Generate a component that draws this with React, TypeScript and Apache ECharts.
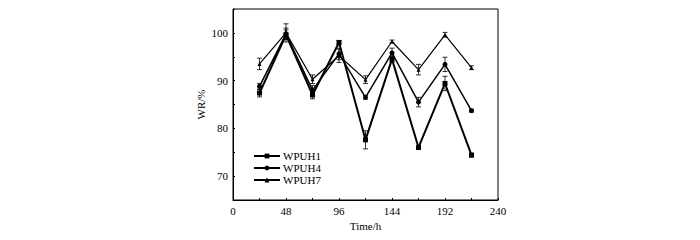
import React, { useEffect, useRef } from "react";
import * as echarts from "echarts";

const times = [24, 48, 72, 96, 120, 144, 168, 192, 216];
const wpuh1 = [87.4, 99.6, 87.0, 98.0, 77.6, 94.5, 76.0, 89.4, 74.4];
const wpuh1Err = [0.8, 1.0, 0.8, 0.4, 1.9, 0.6, 0.4, 1.5, 0.4];
const wpuh4 = [88.8, 99.8, 88.0, 95.6, 86.5, 95.8, 85.5, 93.4, 83.7];
const wpuh4Err = [0.6, 1.2, 1.0, 1.2, 0.4, 1.0, 1.0, 1.5, 0.3];
const wpuh7 = [93.5, 100.0, 90.3, 95.2, 90.2, 98.2, 92.3, 99.6, 92.7];
const wpuh7Err = [1.2, 1.9, 0.9, 1.4, 0.8, 0.3, 1.1, 0.5, 0.4];
const seriesNames = ["WPUH1", "WPUH4", "WPUH7"];
const xTickLabels = [0, 48, 96, 144, 192, 240];
const yTickLabels = [70, 80, 90, 100];

function errorSeries(vals: number[], errs: number[]) {
  return {
    type: "custom",
    silent: true,
    z: 5,
    data: times.map((t, i) => [t, vals[i] - errs[i], vals[i] + errs[i]]),
    renderItem: (params: any, api: any) => {
      const lo = api.coord([api.value(0), api.value(1)]);
      const hi = api.coord([api.value(0), api.value(2)]);
      const w = 2.5;
      const st = { stroke: "#000", lineWidth: 0.8 };
      return {
        type: "group",
        children: [
          { type: "line", shape: { x1: lo[0], y1: lo[1], x2: hi[0], y2: hi[1] }, style: st },
          { type: "line", shape: { x1: lo[0] - w, y1: lo[1], x2: lo[0] + w, y2: lo[1] }, style: st },
          { type: "line", shape: { x1: hi[0] - w, y1: hi[1], x2: hi[0] + w, y2: hi[1] }, style: st },
        ],
      };
    },
  };
}

export default function App() {
  const ref = useRef<HTMLDivElement>(null);
  useEffect(() => {
    if (!ref.current) return;
    const chart = echarts.init(ref.current, undefined, { renderer: "svg" });
    const axisText = { color: "#000", fontSize: 11, fontFamily: "Liberation Serif" };
    chart.setOption({
      animation: false,
      backgroundColor: "#fff",
      textStyle: { fontFamily: "Liberation Serif", color: "#000" },
      grid: { left: 233, right: 202, top: 9, bottom: 40, show: true, borderColor: "#000", borderWidth: 1 },
      legend: {
        orient: "vertical",
        left: 248,
        top: 145,
        itemWidth: 26,
        itemHeight: 6,
        itemGap: 0,
        textStyle: { ...axisText, lineHeight: 12, padding: [0, 0, 0, -2] },
        data: seriesNames,
      },
      xAxis: {
        type: "value",
        min: 0,
        max: 240,
        interval: 24,
        name: "Time/h",
        nameLocation: "middle",
        nameGap: 13,
        nameTextStyle: axisText,
        axisLine: { lineStyle: { color: "#000", width: 1 } },
        axisTick: { inside: true, length: 2, lineStyle: { color: "#000" } },
        axisLabel: {
          ...axisText,
          margin: 5,
          formatter: (v: number) => (xTickLabels.includes(v) ? String(v) : ""),
        },
        splitLine: { show: false },
      },
      yAxis: {
        type: "value",
        min: 65,
        max: 105,
        interval: 5,
        name: "WR/%",
        nameLocation: "middle",
        nameGap: 27,
        nameTextStyle: axisText,
        axisLine: { show: true, lineStyle: { color: "#000", width: 1 } },
        axisTick: { show: true, inside: true, length: 2, lineStyle: { color: "#000" } },
        axisLabel: {
          ...axisText,
          margin: 5,
          formatter: (v: number) => (yTickLabels.includes(v) ? String(v) : ""),
        },
        splitLine: { show: false },
      },
      series: [
        {
          name: "WPUH1",
          type: "line",
          z: 4,
          data: times.map((t, i) => [t, wpuh1[i]]),
          symbol: "rect",
          symbolSize: 5,
          lineStyle: { color: "#000", width: 2 },
          itemStyle: { color: "#000" },
        },
        {
          name: "WPUH4",
          type: "line",
          z: 3,
          data: times.map((t, i) => [t, wpuh4[i]]),
          symbol: "circle",
          symbolSize: 5,
          lineStyle: { color: "#000", width: 1.5 },
          itemStyle: { color: "#000" },
        },
        {
          name: "WPUH7",
          type: "line",
          z: 2,
          data: times.map((t, i) => [t, wpuh7[i]]),
          symbol: "triangle",
          symbolSize: 4,
          lineStyle: { color: "#000", width: 1.2 },
          itemStyle: { color: "#000" },
        },
        errorSeries(wpuh1, wpuh1Err),
        errorSeries(wpuh4, wpuh4Err),
        errorSeries(wpuh7, wpuh7Err),
      ],
    });
    return () => chart.dispose();
  }, []);
  return <div ref={ref} style={{ width: 700, height: 240, margin: -8 }} />;
}
